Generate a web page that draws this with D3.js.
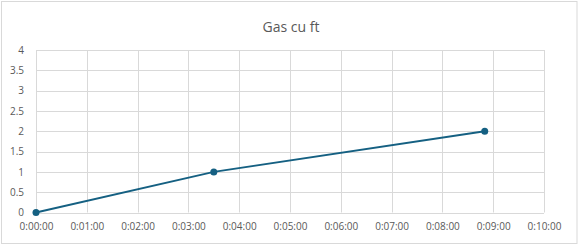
<!DOCTYPE html>
<html>
<head>
<meta charset="utf-8">
<script src="https://cdn.jsdelivr.net/npm/d3@7"></script>
<style>
  body { margin: 0; background: #fff; }
  text { font-family: "Open Sans", "Liberation Sans", sans-serif; }
</style>
</head>
<body>
<div id="root"></div>
<script>
// data: elapsed seconds vs gas used
const times = [0, 210, 530];
const gas = [0, 1, 2];
const yTicks = [0, 0.5, 1, 1.5, 2, 2.5, 3, 3.5, 4];
const xTicks = [0, 60, 120, 180, 240, 300, 360, 420, 480, 540, 600];
const title = "Gas cu ft";

const w = 582;
const h = 249;
const margin = { top: 50, bottom: 36.5, left: 36, right: 38 };

const fmt = s => {
    const m = Math.floor(s / 60), sec = s % 60;
    return "0:" + String(m).padStart(2, "0") + ":" + String(sec).padStart(2, "0");
};

const xScale = d3.scaleLinear()
    .domain([0, 600])
    .range([margin.left, w - margin.right]);

const yScale = d3.scaleLinear()
    .domain([0, 4])
    .range([h - margin.bottom, margin.top]);

const svg = d3.select("#root")
    .append("svg")
    .attr("width", w)
    .attr("height", h);

// chart frame
svg.append("rect")
    .attr("x", 1.5).attr("y", 1.5)
    .attr("width", 575.5).attr("height", 242)
    .attr("fill", "#fff")
    .attr("stroke", "#d9d9d9");

svg.append("text")
    .attr("x", 291)
    .attr("y", 32)
    .attr("text-anchor", "middle")
    .style("font-size", "14px")
    .style("fill", "#595959")
    .text(title);

// gridlines
svg.append("g")
    .selectAll("line")
    .data(yTicks)
    .enter()
    .append("line")
    .attr("x1", margin.left).attr("x2", w - margin.right)
    .attr("y1", d => Math.round(yScale(d)) + 0.5)
    .attr("y2", d => Math.round(yScale(d)) + 0.5)
    .attr("stroke", "#d9d9d9");

svg.append("g")
    .selectAll("line")
    .data(xTicks)
    .enter()
    .append("line")
    .attr("y1", margin.top).attr("y2", h - margin.bottom)
    .attr("x1", d => Math.round(xScale(d)) + 0.5)
    .attr("x2", d => Math.round(xScale(d)) + 0.5)
    .attr("stroke", "#d9d9d9");

// axes (labels only)
const yAxis = d3.axisLeft(yScale).tickValues(yTicks).tickSize(0).tickPadding(12).tickFormat(d => d);
svg.append("g")
    .attr("transform", "translate(" + margin.left + ",0)")
    .call(yAxis)
    .call(g => g.select(".domain").remove())
    .selectAll("text")
    .style("font-size", "10px")
    .style("fill", "#595959")
    .style("font-family", "Open Sans, sans-serif");

const xAxis = d3.axisBottom(xScale).tickValues(xTicks).tickSize(0).tickPadding(10).tickFormat(fmt);
svg.append("g")
    .attr("transform", "translate(0," + (h - margin.bottom) + ")")
    .call(xAxis)
    .call(g => g.select(".domain").remove())
    .selectAll("text")
    .style("font-size", "10px")
    .style("fill", "#595959")
    .style("font-family", "Open Sans, sans-serif");

// series
const line = d3.line()
    .x((d, i) => xScale(times[i]))
    .y(d => yScale(d));

svg.append("path")
    .datum(gas)
    .attr("d", line)
    .attr("fill", "none")
    .attr("stroke", "#156082")
    .attr("stroke-width", 2);

svg.selectAll("circle.pt")
    .data(gas)
    .enter()
    .append("circle")
    .attr("class", "pt")
    .attr("cx", (d, i) => xScale(times[i]))
    .attr("cy", d => yScale(d))
    .attr("r", 3.5)
    .attr("fill", "#156082");
</script>
</body>
</html>
